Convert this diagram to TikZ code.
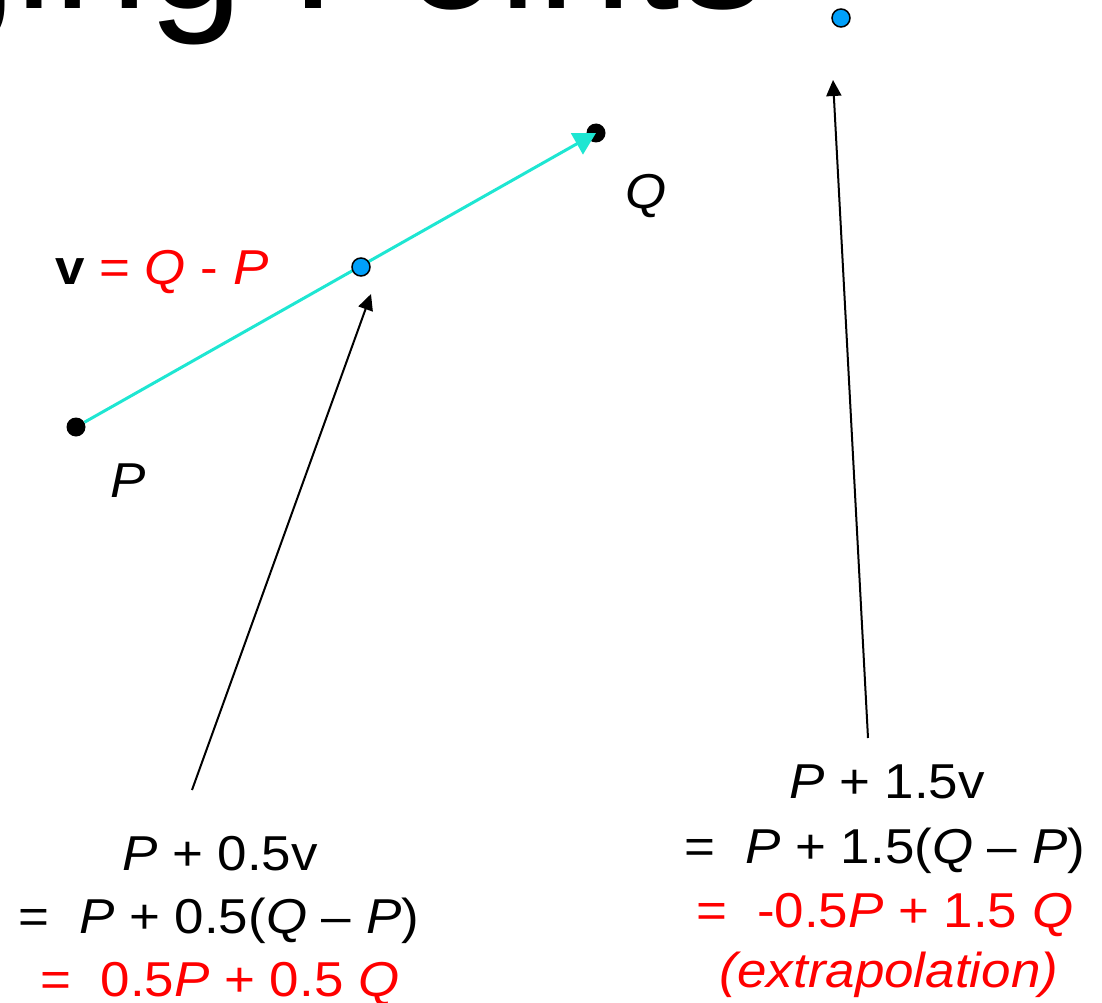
\documentclass[tikz,border=0pt]{standalone}
\usepackage{fontspec}
\setmainfont{Liberation Sans}
\newfontfamily\lblfont{Liberation Sans}[FakeStretch=1.08]
\newfontfamily\ttlfont{Liberation Sans}[FakeStretch=0.97]
\usepackage{xcolor}
\usetikzlibrary{arrows.meta,positioning}
\definecolor{vcyan}{RGB}{30,230,210}
\definecolor{ptblue}{RGB}{0,160,250}

\begin{document}
\begin{tikzpicture}[
  x=1pt, y=-1pt,
  pt/.style={circle, fill=black, inner sep=0pt, minimum size=19pt},
  bpt/.style={circle, draw=black, line width=1.5pt, fill=ptblue,
    inner sep=0pt, minimum size=18pt},
  lbl/.style={inner sep=0pt, anchor=base,
    font=\lblfont\fontsize{49}{64}\selectfont},
  eq/.style={lbl, text=red},
  vec/.style={-{Triangle[length=22pt, width=24pt]}, vcyan, line width=3pt},
  arr/.style={-{Triangle[length=16pt, width=15pt]}, line width=2pt},
]
\useasboundingbox (0,0) rectangle (1102,1003);
\clip (0,0) rectangle (1102,1003);
\node[inner sep=0pt, anchor=base east, font=\ttlfont\fontsize{176}{200}\selectfont]
  (title) at (766,9) {Averaging Points};
\node[pt] (P) at (76,427) {};
\node[pt] (Q) at (596,133) {};
\draw[vec] (P) -- (Q.center);
\node[bpt] (M) at (361,267) {};
\node[bpt] (X) at (841,18) {};
\node[lbl] (Qlbl) at (646,208) {\textit{Q}};
\node[lbl] (Plbl) at (128,497) {\textit{P}};
\node[lbl, anchor=base west] (vlbl) at (55,284)
  {\textbf{v} \textcolor{red}{= \textit{Q} - \textit{P}}};
\node[lbl] (a1) at (220,870) {\textit{P} + 0.5v};
\node[lbl] (a2) at (219,933) {=\ \ \textit{P} + 0.5(\textit{Q} – \textit{P})};
\node[eq] (a3) at (220,996) {=\ \ 0.5\textit{P} + 0.5 \textit{Q}};
\node[lbl] (b1) at (887,798) {\textit{P} + 1.5v};
\node[lbl] (b2) at (885,863) {=\ \ \textit{P} + 1.5(\textit{Q} – \textit{P})};
\node[eq] (b3) at (885,927) {=\ \ -0.5\textit{P} + 1.5 \textit{Q}};
\node[eq] (b4) at (889,987) {\textit{(extrapolation)}};
\coordinate (mtail) at (192,790);
\coordinate (mtip) at (371,294);
\coordinate (xtail) at (868,738);
\coordinate (xtip) at (833,80);
\draw[arr] (mtail) -- (mtip);
\draw[arr] (xtail) -- (xtip);
\end{tikzpicture}
\end{document}
